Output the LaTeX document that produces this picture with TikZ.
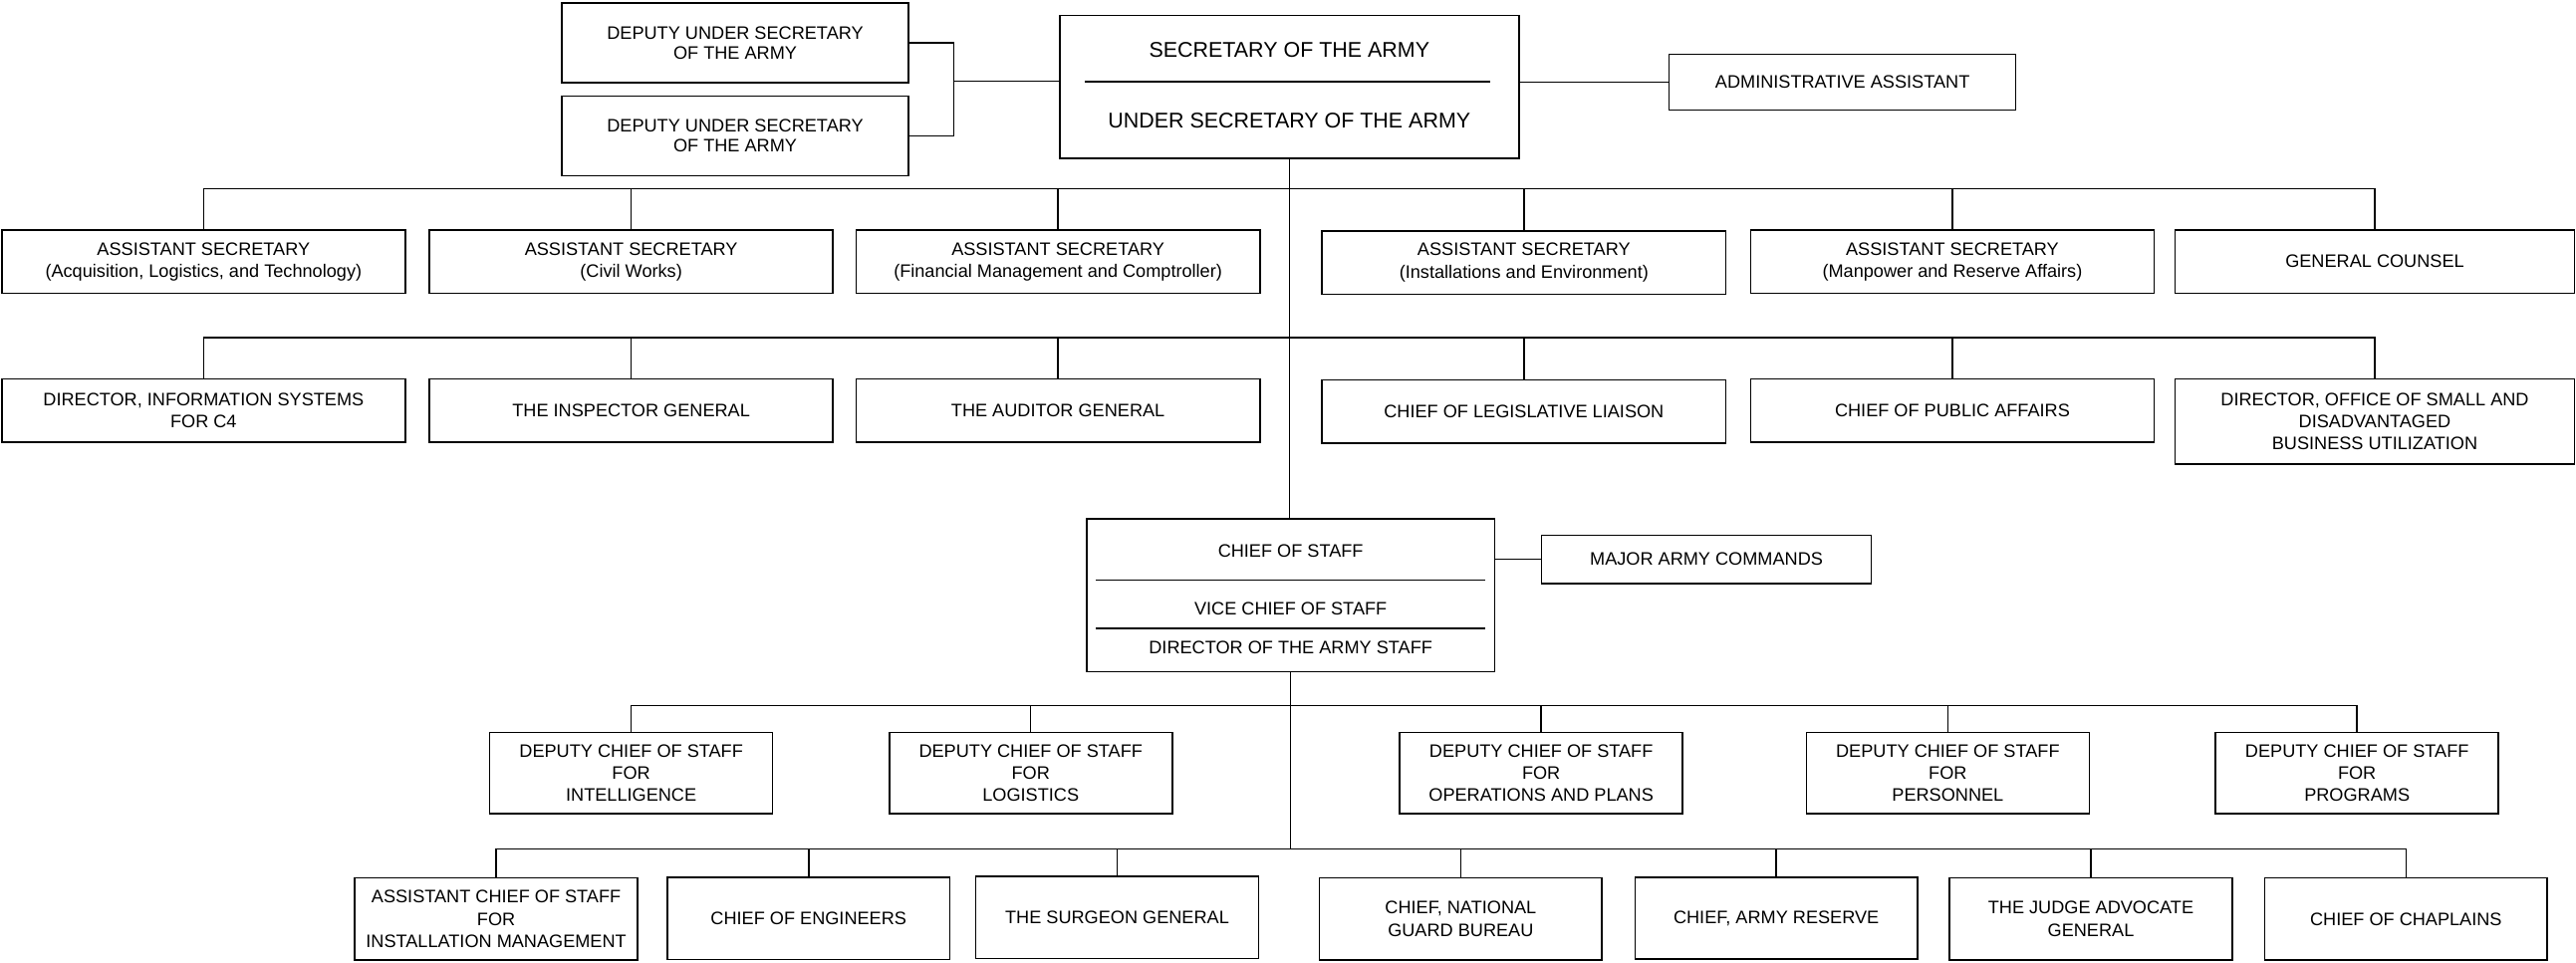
\documentclass[tikz,border=0pt]{standalone}
\usepackage{fontspec}
\setmainfont{Liberation Sans}
\begin{document}
\begin{tikzpicture}[x=1pt,y=-1pt,
  box/.style={draw, line width=1pt, fill=white, inner sep=0pt, align=center, font=\fontsize{11}{13.5}\selectfont},
  dusbox/.style={box, minimum width=211pt, minimum height=48.5pt, font=\fontsize{11}{12.2}\selectfont},
  rowbox/.style={box, minimum width=245.7pt, minimum height=38.6pt},
  dcsbox/.style={box, minimum width=172.2pt, minimum height=49.6pt},
  botbox/.style={box, minimum width=172pt, minimum height=50pt},
  bigtxt/.style={inner sep=0pt, font=\fontsize{13}{15}\selectfont},
  midtxt/.style={inner sep=0pt, font=\fontsize{11}{13.5}\selectfont},
  conn/.style={line width=0.9pt},
  rule/.style={line width=1pt}]
\useasboundingbox (0,0) rectangle (1568,586.3);

% ---- top
\node[box, minimum width=279.5pt, minimum height=87pt] (sec) at (784.8,53) {};
\draw[rule] (660.2,49.6) -- (907.3,49.6);
\node[bigtxt] (sectxt) at (784.8,30.3) {SECRETARY OF THE ARMY};
\node[bigtxt] (usectxt) at (784.8,73.6) {UNDER SECRETARY OF THE ARMY};
\node[dusbox] (dus1) at (447.5,26.2) {DEPUTY UNDER SECRETARY\\OF THE ARMY};
\node[dusbox] (dus2) at (447.5,82.8) {DEPUTY UNDER SECRETARY\\OF THE ARMY};
\node[box, minimum width=211pt, minimum height=34pt] (admin) at (1121.5,50) {ADMINISTRATIVE ASSISTANT};

\coordinate (brk) at (580.6,0);
\coordinate (ym) at (0,49.4);
\draw[conn] (dus1.east) -- (dus1.east -| brk) -- (dus2.east -| brk) -- (dus2.east);
\draw[conn] (brk |- ym) -- (sec.west |- ym);
\draw[conn] (sec.east |- admin.west) -- (admin.west);

% ---- row 1
\node[rowbox] (r1a) at (123.9,159.3) {ASSISTANT SECRETARY\\(Acquisition, Logistics, and Technology)};
\node[rowbox] (r1b) at (384.2,159.3) {ASSISTANT SECRETARY\\(Civil Works)};
\node[rowbox] (r1c) at (644,159.3) {ASSISTANT SECRETARY\\(Financial Management and Comptroller)};
\node[rowbox] (r1d) at (927.6,159.8) {ASSISTANT SECRETARY\\(Installations and Environment)};
\node[rowbox] (r1e) at (1188.4,159.3) {ASSISTANT SECRETARY\\(Manpower and Reserve Affairs)};
\node[rowbox, minimum width=243pt] (r1f) at (1445.5,159.3) {GENERAL COUNSEL};

% ---- row 2
\node[rowbox] (r2a) at (123.9,250.1) {DIRECTOR, INFORMATION SYSTEMS\\FOR C4};
\node[rowbox] (r2b) at (384.2,250.1) {THE INSPECTOR GENERAL};
\node[rowbox] (r2c) at (644,250.1) {THE AUDITOR GENERAL};
\node[rowbox] (r2d) at (927.6,250.6) {CHIEF OF LEGISLATIVE LIAISON};
\node[rowbox] (r2e) at (1188.4,250.1) {CHIEF OF PUBLIC AFFAIRS};
\node[rowbox, minimum width=243pt, minimum height=51.8pt] (r2f) at (1445.5,256.6) {DIRECTOR, OFFICE OF SMALL AND\\DISADVANTAGED\\BUSINESS UTILIZATION};

\coordinate (y1) at (0,114.8);
\coordinate (y2) at (0,205.5);
\draw[conn] (r1a.north) -- (r1a.north |- y1) -- (r1f.north |- y1) -- (r1f.north);
\draw[conn] (r2a.north) -- (r2a.north |- y2) -- (r2f.north |- y2) -- (r2f.north);
\foreach \n in {r1b,r1c,r1d,r1e} \draw[conn] (\n.north) -- (\n.north |- y1);
\foreach \n in {r2b,r2c,r2d,r2e} \draw[conn] (\n.north) -- (\n.north |- y2);

% ---- chief of staff
\node[box, minimum width=248.4pt, minimum height=93.2pt] (cos) at (785.6,362.4) {};
\draw[rule] (667,353.2) -- (904.3,353.2);
\draw[rule] (667,382.4) -- (904.3,382.4);
\node[midtxt] (costxt) at (785.6,335.4) {CHIEF OF STAFF};
\node[midtxt] (vcostxt) at (785.6,370.7) {VICE CHIEF OF STAFF};
\node[midtxt] (dastxt) at (785.6,394.4) {DIRECTOR OF THE ARMY STAFF};
\node[box, minimum width=200.6pt, minimum height=29.3pt] (mac) at (1038.7,340.5) {MAJOR ARMY COMMANDS};
\draw[conn] (cos.east |- mac.west) -- (mac.west);

\draw[conn] (sec.south) -- (sec.south |- cos.north);

% ---- deputy chiefs
\node[dcsbox] (d1) at (384.2,470.7) {DEPUTY CHIEF OF STAFF\\FOR\\INTELLIGENCE};
\node[dcsbox] (d2) at (627.4,470.7) {DEPUTY CHIEF OF STAFF\\FOR\\LOGISTICS};
\node[dcsbox] (d3) at (938.1,470.7) {DEPUTY CHIEF OF STAFF\\FOR\\OPERATIONS AND PLANS};
\node[dcsbox] (d4) at (1185.6,470.7) {DEPUTY CHIEF OF STAFF\\FOR\\PERSONNEL};
\node[dcsbox] (d5) at (1434.7,470.7) {DEPUTY CHIEF OF STAFF\\FOR\\PROGRAMS};

% ---- bottom row
\node[botbox] (b1) at (302,559.5) {ASSISTANT CHIEF OF STAFF\\FOR\\INSTALLATION MANAGEMENT};
\node[botbox] (b2) at (492.2,559.2) {CHIEF OF ENGINEERS};
\node[botbox] (b3) at (680,558.5) {THE SURGEON GENERAL};
\node[botbox] (b4) at (889.1,559.5) {CHIEF, NATIONAL\\GUARD BUREAU};
\node[botbox] (b5) at (1081.2,559) {CHIEF, ARMY RESERVE};
\node[botbox] (b6) at (1272.7,559.5) {THE JUDGE ADVOCATE\\GENERAL};
\node[botbox] (b7) at (1464.5,559.5) {CHIEF OF CHAPLAINS};

\coordinate (y3) at (0,429.7);
\coordinate (y4) at (0,517);
\draw[conn] (cos.south) -- (cos.south |- y4);
\draw[conn] (d1.north) -- (d1.north |- y3) -- (d5.north |- y3) -- (d5.north);
\foreach \n in {d2,d3,d4} \draw[conn] (\n.north) -- (\n.north |- y3);
\draw[conn] (b1.north) -- (b1.north |- y4) -- (b7.north |- y4) -- (b7.north);
\foreach \n in {b2,b3,b4,b5,b6} \draw[conn] (\n.north) -- (\n.north |- y4);
\end{tikzpicture}
\end{document}
